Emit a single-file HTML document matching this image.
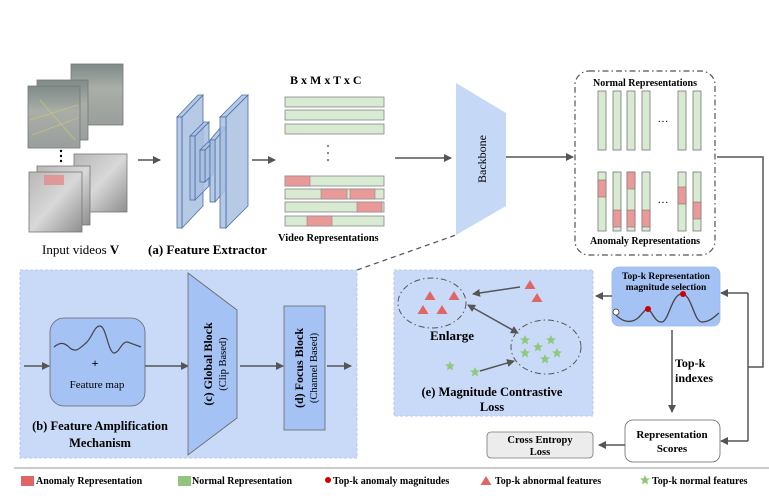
<!DOCTYPE html>
<html><head><meta charset="utf-8"><style>
html,body{margin:0;padding:0;background:#fff;}
svg{display:block;font-family:"Liberation Serif",serif;}
.b{font-weight:bold;}
</style></head><body>
<svg width="769" height="498" viewBox="0 0 769 498" xmlns="http://www.w3.org/2000/svg">
<defs>
<marker id="ar" markerWidth="8" markerHeight="8" refX="7" refY="4" orient="auto" markerUnits="userSpaceOnUse"><path d="M0,0 L8,4 L0,8 z" fill="#555"/></marker>
<marker id="al" markerWidth="8" markerHeight="8" refX="1" refY="4" orient="auto" markerUnits="userSpaceOnUse"><path d="M8,0 L0,4 L8,8 z" fill="#555"/></marker>
<linearGradient id="road" x1="0" y1="0" x2="0" y2="1"><stop offset="0" stop-color="#7f8a88"/><stop offset="0.4" stop-color="#a9aea8"/><stop offset="1" stop-color="#9a9f9c"/></linearGradient>
<linearGradient id="room" x1="0" y1="0" x2="1" y2="1"><stop offset="0" stop-color="#b9b6b5"/><stop offset="0.5" stop-color="#d8d8d8"/><stop offset="1" stop-color="#8e8e8e"/></linearGradient>
<g id="st"><path d="M0,-5 L1.5,-1.6 L5,-1.5 L2.3,0.8 L3,4.5 L0,2.5 L-3,4.5 L-2.3,0.8 L-5,-1.5 L-1.5,-1.6 z" fill="#8cc97a"/></g>
<g id="tr"><path d="M0,-5 L5.5,4 L-5.5,4 z" fill="#e06666"/></g>
</defs>

<!-- input videos -->
<rect x="71" y="64" width="52" height="61" fill="url(#road)" stroke="#777" stroke-width="0.8"/>
<rect x="37" y="80" width="51" height="60" fill="url(#road)" stroke="#777" stroke-width="0.8"/>
<rect x="28" y="86" width="52" height="62" fill="url(#road)" stroke="#777" stroke-width="0.8"/>
<path d="M30,120 L78,105 M32,135 L78,118 M40,100 L75,140" stroke="#c8c07a" stroke-width="0.8" fill="none"/>
<circle cx="61" cy="151" r="1.2" fill="#000"/><circle cx="61" cy="156" r="1.2" fill="#000"/><circle cx="61" cy="161" r="1.2" fill="#000"/>
<rect x="74" y="154" width="53" height="58" fill="url(#room)" stroke="#777" stroke-width="0.8"/>
<rect x="37" y="166" width="53" height="59" fill="url(#room)" stroke="#777" stroke-width="0.8"/>
<rect x="29" y="172" width="53" height="60" fill="url(#room)" stroke="#777" stroke-width="0.8"/>
<rect x="44" y="175" width="20" height="10" fill="#e58a8a" opacity="0.8"/>
<text x="42" y="254" font-size="13">Input videos <tspan class="b">V</tspan></text>

<line x1="138" y1="160" x2="160" y2="160" stroke="#555" stroke-width="1.5" marker-end="url(#ar)"/>

<!-- feature extractor slabs -->
<g stroke="#4a6fa5" stroke-width="0.8" fill="#a9bfe0" fill-opacity="0.85">
<polygon points="182,117 203,95 203,206 182,228"/><polygon points="177,117 198,95 203,95 182,117"/><rect x="177" y="117" width="5" height="111"/>
<polygon points="195,136 209,122 209,186 195,200"/><polygon points="190,136 204,122 209,122 195,136"/><rect x="190" y="136" width="5" height="64"/>
<polygon points="205,150 213,142 213,174 205,182"/><polygon points="200,150 208,142 213,142 205,150"/><rect x="200" y="150" width="5" height="32"/>
<polygon points="215,140 226,127 226,189 215,202"/><polygon points="210,140 221,127 226,127 215,140"/><rect x="210" y="140" width="5" height="62"/>
<polygon points="226,117 248,95 248,206 226,228"/><polygon points="220,117 242,95 248,95 226,117"/><rect x="220" y="117" width="6" height="111"/>
</g>
<text x="148" y="254" font-size="13" class="b">(a) Feature Extractor</text>
<line x1="252" y1="160" x2="275" y2="160" stroke="#555" stroke-width="1.5" marker-end="url(#ar)"/>

<!-- video representations -->
<text x="290" y="84" font-size="12" class="b">B x M x T x C</text>
<g stroke="#888" stroke-width="0.8" fill="#d9ead3">
<rect x="285" y="97" width="99" height="10"/><rect x="285" y="110" width="99" height="10"/><rect x="285" y="124" width="99" height="10"/>
<rect x="285" y="176" width="99" height="10"/><rect x="285" y="189" width="99" height="10"/><rect x="285" y="202" width="99" height="10"/><rect x="285" y="216" width="99" height="10"/>
</g>
<g fill="#ea9999" stroke="#888" stroke-width="0.6">
<rect x="285" y="176" width="25" height="10"/><rect x="321" y="189" width="26" height="10"/><rect x="350" y="189" width="25" height="10"/><rect x="357" y="202" width="25" height="10"/><rect x="307" y="216" width="25" height="10"/>
</g>
<circle cx="328" cy="146" r="0.9" fill="#333"/><circle cx="328" cy="153" r="0.9" fill="#333"/><circle cx="328" cy="160" r="0.9" fill="#333"/>
<text x="278" y="241" font-size="10.5" class="b">Video Representations</text>

<line x1="395" y1="158" x2="451" y2="158" stroke="#555" stroke-width="1.5" marker-end="url(#ar)"/>
<!-- backbone -->
<polygon points="456,83 506,113 506,206 456,235" fill="#c5d8f5"/>
<text transform="translate(486,159) rotate(-90)" text-anchor="middle" font-size="12">Backbone</text>
<line x1="506" y1="157" x2="573" y2="157" stroke="#555" stroke-width="1.5" marker-end="url(#ar)"/>

<!-- representation box -->
<rect x="575" y="71" width="140" height="184" rx="14" fill="none" stroke="#555" stroke-width="1.2" stroke-dasharray="6,3,1.5,3"/>
<text x="645" y="86" font-size="10" class="b" text-anchor="middle">Normal Representations</text>
<text x="645" y="244" font-size="10" class="b" text-anchor="middle">Anomaly Representations</text>
<g stroke="#777" stroke-width="0.8" fill="#d9ead3">
<rect x="598" y="91" width="8" height="59"/><rect x="613" y="91" width="8" height="59"/><rect x="627" y="91" width="8" height="59"/><rect x="642" y="91" width="8" height="59"/><rect x="678" y="91" width="8" height="59"/><rect x="693" y="91" width="8" height="59"/>
<rect x="598" y="172" width="8" height="59"/><rect x="613" y="172" width="8" height="59"/><rect x="627" y="172" width="8" height="59"/><rect x="642" y="172" width="8" height="59"/><rect x="678" y="172" width="8" height="59"/><rect x="693" y="172" width="8" height="59"/>
</g>
<g stroke="#777" stroke-width="0.6" fill="#ea9999">
<rect x="598" y="180" width="8" height="17"/><rect x="613" y="210" width="8" height="17"/><rect x="627" y="172" width="8" height="17"/><rect x="627" y="210" width="8" height="17"/><rect x="642" y="210" width="8" height="17"/><rect x="678" y="187" width="8" height="17"/><rect x="693" y="202" width="8" height="17"/>
</g>
<text x="663" y="122" font-size="11" text-anchor="middle">…</text>
<text x="663" y="203" font-size="11" text-anchor="middle">…</text>

<!-- right connector -->
<polyline points="717,157 763,157 763,367 748,367" fill="none" stroke="#555" stroke-width="1.5"/>
<line x1="748" y1="293" x2="748" y2="441" stroke="#555" stroke-width="1.5"/>
<line x1="748" y1="293" x2="721" y2="293" stroke="#555" stroke-width="1.5" marker-end="url(#ar)"/>
<line x1="748" y1="441" x2="721" y2="441" stroke="#555" stroke-width="1.5" marker-end="url(#ar)"/>

<!-- dashed link -->
<line x1="357" y1="270" x2="456" y2="235" stroke="#555" stroke-width="1.2" stroke-dasharray="5,4"/>

<!-- (b) panel -->
<rect x="20" y="270" width="337" height="188" fill="#c9daf8" stroke="#b7c9ea" stroke-dasharray="3,2"/>
<rect x="50" y="318" width="95" height="88" rx="14" fill="#a4c2f4" stroke="#666" stroke-width="0.8"/>
<path d="M54,347 C60,342 64,342 70,348 C76,353 80,348 86,343 C92,338 94,326 100,326 C106,326 108,352 114,353 C120,353 122,338 130,343 L141,347" fill="none" stroke="#444" stroke-width="1.2"/>
<text x="95" y="367" font-size="12" class="b" text-anchor="middle">+</text>
<text x="97" y="388" font-size="11" text-anchor="middle">Feature map</text>
<line x1="24" y1="366" x2="49" y2="366" stroke="#555" stroke-width="1.5" marker-end="url(#ar)"/>
<line x1="145" y1="366" x2="188" y2="366" stroke="#555" stroke-width="1.5" marker-end="url(#ar)"/>
<polygon points="188,273 237,310 237,418 188,455" fill="#a4c2f4" stroke="#666" stroke-width="0.8"/>
<text transform="translate(212,364) rotate(-90)" text-anchor="middle" font-size="12" class="b">(c) Global Block</text>
<text transform="translate(226,364) rotate(-90)" text-anchor="middle" font-size="10.5">(Clip Based)</text>
<line x1="240" y1="366" x2="283" y2="366" stroke="#555" stroke-width="1.5" marker-end="url(#ar)"/>
<rect x="284" y="306" width="41" height="124" fill="#a4c2f4" stroke="#666" stroke-width="0.8"/>
<text transform="translate(303,368) rotate(-90)" text-anchor="middle" font-size="12" class="b">(d) Focus Block</text>
<text transform="translate(317,368) rotate(-90)" text-anchor="middle" font-size="10.5">(Channel Based)</text>
<line x1="327" y1="366" x2="351" y2="366" stroke="#555" stroke-width="1.5" marker-end="url(#ar)"/>
<text x="100" y="430" font-size="12.5" class="b" text-anchor="middle">(b) Feature Amplification</text>
<text x="100" y="447" font-size="12.5" class="b" text-anchor="middle">Mechanism</text>

<!-- (e) panel -->
<rect x="394" y="270" width="199" height="146" fill="#c9daf8" stroke="#b7c9ea" stroke-dasharray="3,2"/>
<ellipse cx="432" cy="303" rx="34" ry="25" fill="none" stroke="#555" stroke-width="1" stroke-dasharray="6,3,1.5,3"/>
<ellipse cx="546" cy="347" rx="35" ry="27" fill="none" stroke="#555" stroke-width="1" stroke-dasharray="6,3,1.5,3"/>
<use href="#tr" x="430" y="296"/><use href="#tr" x="454" y="296"/><use href="#tr" x="423" y="310"/><use href="#tr" x="442" y="310"/>
<use href="#tr" x="530" y="285"/><use href="#tr" x="537" y="298"/>
<use href="#st" x="525" y="340"/><use href="#st" x="538" y="347"/><use href="#st" x="551" y="340"/><use href="#st" x="525" y="353"/><use href="#st" x="545" y="359"/><use href="#st" x="557" y="353"/>
<use href="#st" x="450" y="366"/><use href="#st" x="475" y="372"/>
<line x1="520" y1="287" x2="473" y2="294" stroke="#555" stroke-width="1.5" marker-end="url(#ar)"/>
<line x1="480" y1="371" x2="514" y2="361" stroke="#555" stroke-width="1.5" marker-end="url(#ar)"/>
<line x1="468" y1="305" x2="518" y2="333" stroke="#555" stroke-width="1.5" marker-end="url(#ar)" marker-start="url(#al)"/>
<text x="452" y="340" font-size="13" class="b" text-anchor="middle">Enlarge</text>
<text x="492" y="396" font-size="12.5" class="b" text-anchor="middle">(e) Magnitude Contrastive</text>
<text x="492" y="411" font-size="12.5" class="b" text-anchor="middle">Loss</text>

<!-- top-k box -->
<rect x="612" y="267" width="108" height="59" rx="7" fill="#a4c2f4" stroke="#9ab8ee" stroke-width="0.8"/>
<text x="666" y="279" font-size="9.5" class="b" text-anchor="middle">Top-k Representation</text>
<text x="666" y="290" font-size="9.5" class="b" text-anchor="middle">magnitude selection</text>
<path d="M614,313 C622,322 630,324 638,318 C644,312 646,308 648,309 C652,311 655,323 662,322 C669,321 672,292 683,294 C692,296 694,322 702,322 C710,322 715,316 719,313" fill="none" stroke="#444" stroke-width="1.3"/>
<circle cx="616" cy="312" r="3" fill="#fff" stroke="#333" stroke-width="0.8"/>
<circle cx="648" cy="309" r="3" fill="#c00"/>
<circle cx="683" cy="294" r="3" fill="#c00"/>
<line x1="612" y1="296" x2="596" y2="296" stroke="#555" stroke-width="1.5" marker-end="url(#ar)"/>
<line x1="672" y1="330" x2="672" y2="412" stroke="#555" stroke-width="1.5" marker-end="url(#ar)"/>
<text x="675" y="367" font-size="12" class="b">Top-k</text>
<text x="675" y="382" font-size="12" class="b">indexes</text>

<rect x="625" y="420" width="95" height="42" rx="8" fill="#fff" stroke="#666" stroke-width="0.8"/>
<text x="672" y="438" font-size="11" class="b" text-anchor="middle">Representation</text>
<text x="672" y="452" font-size="11" class="b" text-anchor="middle">Scores</text>
<line x1="625" y1="445" x2="599" y2="445" stroke="#555" stroke-width="1.5" marker-end="url(#ar)"/>
<rect x="487" y="432" width="106" height="26" rx="4" fill="#ececec" stroke="#777" stroke-width="0.8"/>
<text x="540" y="443" font-size="10.5" class="b" text-anchor="middle">Cross Entropy</text>
<text x="540" y="455" font-size="10.5" class="b" text-anchor="middle">Loss</text>

<!-- legend -->
<line x1="14" y1="468" x2="769" y2="468" stroke="#aaa" stroke-width="1.2"/>
<rect x="21" y="476" width="13" height="10" fill="#e06666"/>
<text x="36" y="484" font-size="10" class="b">Anomaly Representation</text>
<rect x="178" y="476" width="13" height="10" fill="#93c47d"/>
<text x="192" y="484" font-size="10" class="b">Normal Representation</text>
<circle cx="328" cy="480" r="3" fill="#c00"/>
<text x="333" y="484" font-size="10" class="b">Top-k anomaly magnitudes</text>
<use href="#tr" x="486" y="481"/>
<text x="495" y="484" font-size="10" class="b">Top-k abnormal features</text>
<use href="#st" x="645" y="480"/>
<text x="652" y="484" font-size="10" class="b">Top-k normal features</text>
</svg>
</body></html>
